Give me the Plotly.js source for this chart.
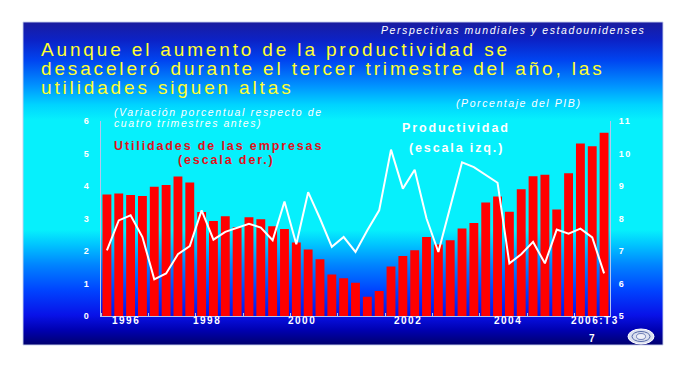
<!DOCTYPE html>
<html>
<head>
<meta charset="utf-8">
<script src="https://cdn.plot.ly/plotly-3.0.1.min.js"></script>
<style>
  html, body { margin: 0; padding: 0; background: #ffffff; }
  #chart { width: 694px; height: 367px; }
  svg text { letter-spacing: 0.15em; }
</style>
</head>
<body>
<div id="chart"></div>
<script>
// ---- Data ----
const quarters = [
  "1996:T1","1996:T2","1996:T3","1996:T4",
  "1997:T1","1997:T2","1997:T3","1997:T4",
  "1998:T1","1998:T2","1998:T3","1998:T4",
  "1999:T1","1999:T2","1999:T3","1999:T4",
  "2000:T1","2000:T2","2000:T3","2000:T4",
  "2001:T1","2001:T2","2001:T3","2001:T4",
  "2002:T1","2002:T2","2002:T3","2002:T4",
  "2003:T1","2003:T2","2003:T3","2003:T4",
  "2004:T1","2004:T2","2004:T3","2004:T4",
  "2005:T1","2005:T2","2005:T3","2005:T4",
  "2006:T1","2006:T2","2006:T3"
];
// Corporate profits, % of GDP (right scale)
const utilidades = [
  8.74, 8.77, 8.72, 8.69, 8.98, 9.03, 9.29, 9.11,
  8.20, 7.92, 8.07, 7.73, 8.04, 7.98, 7.76, 7.68,
  7.26, 7.05, 6.75, 6.28, 6.16, 6.02, 5.59, 5.77,
  6.52, 6.85, 7.02, 7.43, 7.20, 7.33, 7.69, 7.86,
  8.49, 8.68, 8.21, 8.90, 9.30, 9.35, 8.28, 9.39,
  10.31, 10.22, 10.64
];
// Productivity, % change vs four quarters earlier (left scale)
const productividad = [
  2.02, 2.94, 3.10, 2.43, 1.13, 1.31, 1.90, 2.15,
  3.25, 2.35, 2.59, 2.72, 2.84, 2.72, 2.33, 3.52,
  2.21, 3.81, 3.00, 2.13, 2.43, 1.97, 2.64, 3.25,
  5.12, 3.92, 4.50, 3.00, 1.97, 3.35, 4.73, 4.58,
  4.35, 4.10, 1.62, 1.90, 2.28, 1.62, 2.66, 2.53,
  2.69, 2.42, 1.31
];
const yearLabels = ["1996", "1998", "2000", "2002", "2004", "2006:T3"];
const yearLabelPos = [1.6, 8.45, 16.5, 25.4, 33.9, 41.25];
const leftTicks = [0, 1, 2, 3, 4, 5, 6];
const rightTicks = [5, 6, 7, 8, 9, 10, 11];

// ---- Layout helpers ----
const W = 694, H = 367;
const PL = 101, PR = 610, PT = 121, PB = 316;
const px2x = p => (p - PL) / (PR - PL);
const px2y = p => (PB - p) / (PB - PT);
const FONT = "Liberation Sans, Arial, Helvetica, sans-serif";

const xIdx = quarters.map((q, i) => i);

const traces = [
  {
    type: "bar",
    x: xIdx,
    y: utilidades,
    yaxis: "y",
    marker: { color: "#ff0000", line: { width: 0 } },
    hoverinfo: "skip",
    showlegend: false
  },
  {
    type: "scatter",
    mode: "lines",
    x: xIdx,
    y: productividad,
    yaxis: "y2",
    line: { color: "#ffffff", width: 2 },
    hoverinfo: "skip",
    showlegend: false
  }
];

// Background gradient of the slide
const stops = [
  [0.000, "#1a1c9e"], [0.056, "#0c22c6"], [0.118, "#0044f0"],
  [0.195, "#0090ff"], [0.257, "#00d4ff"], [0.303, "#06f0fc"],
  [0.644, "#06f0fc"], [0.690, "#00c4ff"], [0.752, "#0084ff"],
  [0.830, "#0044ff"], [0.907, "#0812e8"], [0.954, "#0000b0"],
  [1.000, "#00006e"]
];
const SX0 = 23, SX1 = 663, SY0 = 22, SY1 = 345;
const svgBg = "<svg xmlns='http://www.w3.org/2000/svg' width='640' height='323' preserveAspectRatio='none'>" +
  "<defs><linearGradient id='g' x1='0' y1='0' x2='0' y2='1'>" +
  stops.map(s => "<stop offset='" + s[0] + "' stop-color='" + s[1] + "'/>").join("") +
  "</linearGradient></defs><rect x='0' y='0' width='640' height='323' fill='url(#g)'/></svg>";

function ann(text, xpx, ypx, opts) {
  return Object.assign({
    text: text, xref: "paper", yref: "paper",
    x: px2x(xpx), y: px2y(ypx),
    xanchor: "left", yanchor: "middle",
    showarrow: false, borderpad: 0
  }, opts);
}
const f = (size, color, weight, style) => ({ family: FONT, size: size, color: color, weight: weight || "normal", style: style || "normal" });

const annotations = [
  ann("Perspectivas mundiales y estadounidenses", 646, 30, { xanchor: "right", font: f(10.5, "#ffffff", "normal", "italic") }),
  ann("Aunque el aumento de la productividad se", 40, 49.5, { font: f(19, "#ffff30") }),
  ann("desaceleró durante el tercer trimestre del año, las", 40, 68.5, { font: f(19, "#ffff30") }),
  ann("utilidades siguen altas", 40, 87.5, { font: f(19, "#ffff30") }),
  ann("(Porcentaje del PIB)", 455, 103, { font: f(10.5, "#ffffff", "normal", "italic") }),
  ann("(Variación porcentual respecto de", 113, 112, { font: f(10.5, "#ffffff", "normal", "italic") }),
  ann("cuatro trimestres antes)", 113, 123, { font: f(10.5, "#ffffff", "normal", "italic") }),
  ann("Utilidades de las empresas", 113, 146, { font: f(12.5, "#e0101a", "bold") }),
  ann("(escala der.)", 226, 160, { xanchor: "center", font: f(12.5, "#e0101a", "bold") }),
  ann("Productividad", 401, 128, { font: f(12.5, "#ffffff", "bold") }),
  ann("(escala izq.)", 408, 148, { font: f(12.5, "#ffffff", "bold") }),
  ann("7", 592, 338, { xanchor: "center", font: f(10, "#ffffff", "bold") })
].concat(yearLabels.map((lab, i) => ({
  text: lab, xref: "x", yref: "paper",
  x: yearLabelPos[i], y: px2y(320),
  xanchor: "center", yanchor: "middle",
  showarrow: false, borderpad: 0,
  font: f(10, "#ffffff", "bold")
})));

const shapes = [
  { type: "rect", xref: "paper", yref: "paper", layer: "below",
    x0: px2x(SX0), x1: px2x(SX1), y0: px2y(SY1), y1: px2y(SY0),
    line: { color: "rgba(200,208,238,0.9)", width: 1 }, fillcolor: "rgba(0,0,0,0)" },
  // seal / logo
  { type: "circle", xref: "paper", yref: "paper", layer: "above",
    x0: px2x(628), x1: px2x(654), y0: px2y(344), y1: px2y(329),
    line: { color: "#ffffff", width: 1 }, fillcolor: "#dde2f0" },
  { type: "circle", xref: "paper", yref: "paper", layer: "above",
    x0: px2x(632), x1: px2x(650), y0: px2y(341.5), y1: px2y(331.5),
    line: { color: "#5468a8", width: 1 }, fillcolor: "rgba(0,0,0,0)" },
  { type: "circle", xref: "paper", yref: "paper", layer: "above",
    x0: px2x(636.5), x1: px2x(645.5), y0: px2y(339.5), y1: px2y(333.5),
    line: { color: "#7080b8", width: 1 }, fillcolor: "#eef0f8" }
];

const axisLine = "#b4c6ee";
const layout = {
  width: W, height: H,
  margin: { l: PL, r: W - PR, t: PT, b: H - PB, pad: 0 },
  paper_bgcolor: "#ffffff",
  plot_bgcolor: "rgba(0,0,0,0)",
  showlegend: false,
  hovermode: false,
  bargap: 0.25,
  font: { family: FONT, color: "#ffffff" },
  xaxis: {
    type: "linear",
    range: [-0.5, quarters.length - 0.5],
    tickmode: "array",
    tickvals: yearLabelPos,
    ticktext: yearLabels,
    showticklabels: false,
    ticks: "",
    showline: true, linecolor: axisLine, linewidth: 1,
    showgrid: false, zeroline: false,
    minor: {
      tickmode: "array",
      tickvals: [-0.5, 3.5, 7.5, 11.5, 15.5, 19.5, 23.5, 27.5, 31.5, 35.5, 39.5],
      ticks: "inside", ticklen: 3, tickcolor: axisLine, tickwidth: 1, showgrid: false
    },
    fixedrange: true
  },
  // bars: right scale
  yaxis: {
    range: [5, 11], side: "right",
    tickmode: "array", tickvals: rightTicks, ticktext: rightTicks.map(String),
    ticks: "outside", ticklen: 6, tickcolor: "rgba(0,0,0,0)",
    tickfont: { family: FONT, size: 9, color: "#ffffff", weight: "bold" },
    showline: true, linecolor: axisLine, linewidth: 1,
    showgrid: false, zeroline: false, fixedrange: true
  },
  // line: left scale (overlaying so the line is drawn over the bars)
  yaxis2: {
    range: [0, 6], side: "left", overlaying: "y",
    tickmode: "array", tickvals: leftTicks, ticktext: leftTicks.map(String),
    ticks: "outside", ticklen: 8, tickcolor: "rgba(0,0,0,0)",
    tickfont: { family: FONT, size: 9, color: "#ffffff", weight: "bold" },
    showline: true, linecolor: axisLine, linewidth: 1,
    showgrid: false, zeroline: false, fixedrange: true
  },
  images: [{
    source: "data:image/svg+xml;charset=utf-8," + encodeURIComponent(svgBg),
    xref: "paper", yref: "paper",
    x: px2x(SX0), y: px2y(SY0),
    sizex: (SX1 - SX0) / (PR - PL), sizey: (SY1 - SY0) / (PB - PT),
    xanchor: "left", yanchor: "top",
    sizing: "stretch", layer: "below"
  }],
  annotations: annotations,
  shapes: shapes
};

Plotly.newPlot("chart", traces, layout, { displayModeBar: false, staticPlot: true });
</script>
</body>
</html>
